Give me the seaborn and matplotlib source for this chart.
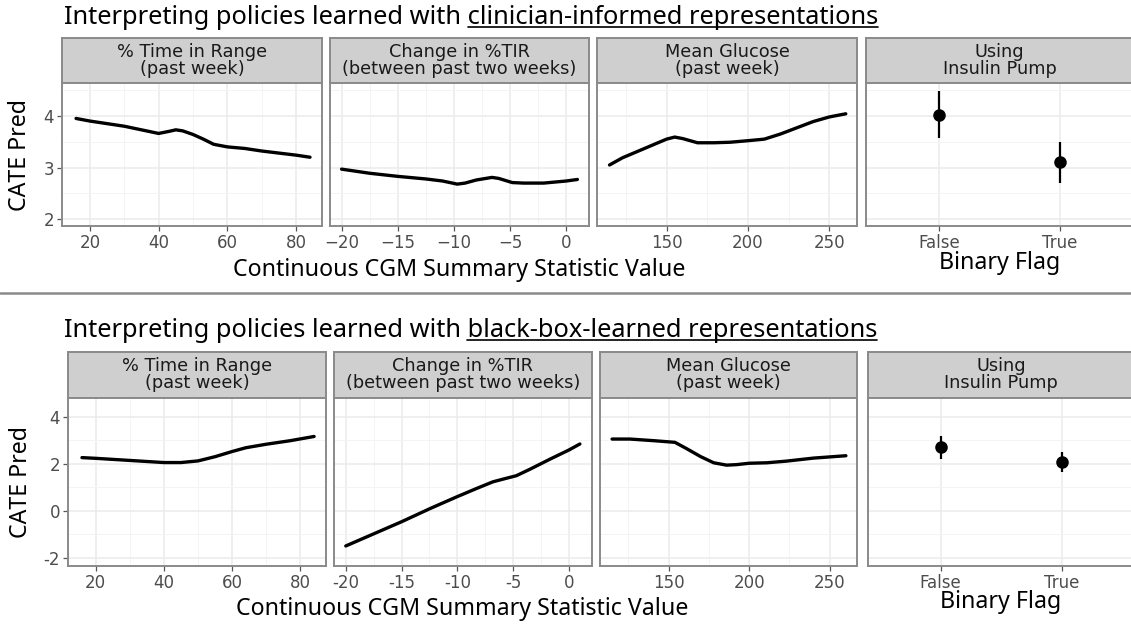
import numpy as np
import pandas as pd
import seaborn as sns
import matplotlib
matplotlib.use("Agg")
import matplotlib.pyplot as plt
from matplotlib.ticker import FixedLocator, FuncFormatter
from matplotlib.lines import Line2D

# ------------------------------------------------------------------ data
panel_titles = ["% Time in Range\n(past week)",
                "Change in %TIR\n(between past two weeks)",
                "Mean Glucose\n(past week)",
                "Using\nInsulin Pump"]
title_prefix = "Interpreting policies learned with "
title_emph = ["clinician-informed representations",
              "black-box-learned representations"]
x_label_cont = "Continuous CGM Summary Statistic Value"
x_label_bin = "Binary Flag"
y_label = "CATE Pred"
flag_levels = ["False", "True"]

# clinician-informed representations
clin_tir_x = [16, 20, 25, 30, 35, 40, 43, 45, 47, 50, 53, 56, 60, 65, 70, 75, 80, 84]
clin_tir_y = [3.95, 3.90, 3.85, 3.80, 3.73, 3.66, 3.70, 3.73, 3.71, 3.64, 3.55, 3.45,
              3.40, 3.37, 3.32, 3.28, 3.24, 3.20]
clin_dtir_x = [-20, -17.5, -15, -12.5, -11, -9.7, -9, -8, -6.6, -6, -4.8, -3.8, -2, 0, 1]
clin_dtir_y = [2.97, 2.89, 2.83, 2.78, 2.74, 2.68, 2.70, 2.76, 2.81, 2.79, 2.71, 2.70,
               2.70, 2.74, 2.77]
clin_glu_x = [115, 123, 138, 150, 155, 160, 169, 179, 189, 200, 210, 220, 230, 240, 250, 260]
clin_glu_y = [3.05, 3.19, 3.39, 3.55, 3.59, 3.56, 3.48, 3.48, 3.49, 3.52, 3.55, 3.65,
              3.77, 3.89, 3.98, 4.04]
clin_pump_est = [4.02, 3.10]
clin_pump_lo = [3.57, 2.71]
clin_pump_hi = [4.48, 3.49]

# black-box-learned representations
bb_tir_x = [16, 20, 30, 40, 45, 50, 55, 60, 64, 70, 77, 84]
bb_tir_y = [2.26, 2.23, 2.14, 2.05, 2.05, 2.12, 2.30, 2.52, 2.68, 2.83, 2.98, 3.16]
bb_dtir_x = [-20, -15, -12.4, -10, -8.3, -6.8, -5.6, -4.7, -3.5, -1.7, 0, 1]
bb_dtir_y = [-1.50, -0.47, 0.10, 0.60, 0.94, 1.23, 1.38, 1.49, 1.76, 2.19, 2.58, 2.84]
bb_glu_x = [115, 126, 141, 154, 161, 170, 178, 186, 192, 200, 211, 223, 240, 260]
bb_glu_y = [3.05, 3.05, 2.98, 2.91, 2.65, 2.30, 2.04, 1.94, 1.96, 2.02, 2.04, 2.11,
            2.24, 2.34]
bb_pump_est = [2.70, 2.09]
bb_pump_lo = [2.19, 1.66]
bb_pump_hi = [3.18, 2.51]

# ------------------------------------------------------------------ style
sns.set_theme(style="white")
TEXT_FONT = ["Noto Sans", "DejaVu Sans"]
TICK_FONT = ["DejaVu Sans"]
plt.rcParams["font.family"] = TICK_FONT

W, H = 1131, 624
BORDER = "#8a8a8a"
STRIP_FILL = "#cfcfcf"
GRID_MAJOR = "#ebebeb"
GRID_MINOR = "#f4f4f4"
TICK_COL = "#4d4d4d"
TITLE_SIZE = 18.3
LABEL_SIZE = 16.7
STRIP_SIZE = 12.8

fig = plt.figure(figsize=(W / 100, H / 100), dpi=100)
fig.patch.set_facecolor("white")


def rect(x0, x1, y0, y1):
    return [x0 / W, 1 - y1 / H, (x1 - x0) / W, (y1 - y0) / H]


sections = [
    dict(emph=title_emph[0], title_y=24.0, title_x=64,
         strip=(37.7, 83.3), panel=(83.3, 226.0),
         xs=[(62.3, 321.7), (330.0, 589.3), (597.3, 856.7), (866.0, 1133.0)],
         ylim=(1.87, 4.63), yticks=[2, 3, 4], yminor=[2.5, 3.5, 4.5],
         minus="\u2212",
         lines=[(clin_tir_x, clin_tir_y), (clin_dtir_x, clin_dtir_y), (clin_glu_x, clin_glu_y)],
         pump=(clin_pump_est, clin_pump_lo, clin_pump_hi),
         ylab=(20.0, 154.6), xlab=(459.5, 270.0), blab=(999.5, 263.0)),
    dict(emph=title_emph[1], title_y=336.7, title_x=63.5,
         strip=(351.7, 397.7), panel=(397.7, 565.7),
         xs=[(68.3, 325.7), (334.3, 591.7), (600.0, 856.7), (867.7, 1135.0)],
         ylim=(-2.34, 4.81), yticks=[-2, 0, 2, 4], yminor=[-1, 1, 3],
         minus="-",
         lines=[(bb_tir_x, bb_tir_y), (bb_dtir_x, bb_dtir_y), (bb_glu_x, bb_glu_y)],
         pump=(bb_pump_est, bb_pump_lo, bb_pump_hi),
         ylab=(20.7, 481.7), xlab=(462.0, 609.0), blab=(1001.0, 602.5)),
]

cont_xlims = [(12.0, 87.4), (-21.03, 2.06), (107.5, 266.7)]
cont_xticks = [[20, 40, 60, 80], [-20, -15, -10, -5, 0], [150, 200, 250]]
cont_xminor = [[30, 50, 70], [-17.5, -12.5, -7.5, -2.5], [125, 175, 225]]


def style_axes(ax, minus):
    ax.set_facecolor("white")
    for sp in ax.spines.values():
        sp.set_color(BORDER)
        sp.set_linewidth(1.4)
        sp.set_visible(True)
    ax.set_axisbelow(True)
    ax.grid(which="major", color=GRID_MAJOR, lw=1.1)
    ax.grid(which="minor", color=GRID_MINOR, lw=0.7)
    ax.tick_params(which="major", length=3.5, width=0.9, color="#555555",
                   labelsize=12, labelcolor=TICK_COL, pad=2.5,
                   bottom=True, left=False, labelleft=False)
    ax.tick_params(which="minor", length=0)
    fmt = FuncFormatter(lambda v, p: f"{v:g}".replace("-", minus))
    ax.xaxis.set_major_formatter(fmt)
    ax.yaxis.set_major_formatter(fmt)
    ax.set_xlabel("")
    ax.set_ylabel("")
    for lab in ax.get_xticklabels() + ax.get_yticklabels():
        lab.set_family(TICK_FONT)


renderer = fig.canvas.get_renderer()

for sec in sections:
    sy0, sy1 = sec["strip"]
    py0, py1 = sec["panel"]
    for i, (x0, x1) in enumerate(sec["xs"]):
        # strip
        sax = fig.add_axes(rect(x0, x1, sy0, sy1))
        sax.set_facecolor(STRIP_FILL)
        sax.set_xticks([])
        sax.set_yticks([])
        sax.grid(False)
        for sp in sax.spines.values():
            sp.set_color(BORDER)
            sp.set_linewidth(1.4)
        sax.text(0.5, 0.5, panel_titles[i], transform=sax.transAxes,
                 ha="center", va="center", fontsize=STRIP_SIZE, color="#1a1a1a",
                 linespacing=0.92, family=TICK_FONT)

        ax = fig.add_axes(rect(x0, x1, py0, py1))
        if i < 3:
            xs_, ys_ = sec["lines"][i]
            df = pd.DataFrame({"value": xs_, "cate": ys_})
            sns.lineplot(data=df, x="value", y="cate", ax=ax, color="black",
                         lw=2.4, sort=False, estimator=None)
            style_axes(ax, sec["minus"])
            ax.set_xlim(*cont_xlims[i])
            ax.xaxis.set_major_locator(FixedLocator(cont_xticks[i]))
            ax.xaxis.set_minor_locator(FixedLocator(cont_xminor[i]))
        else:
            est, lo, hi = sec["pump"]
            dfp = pd.DataFrame({"flag": flag_levels, "cate": est})
            sns.pointplot(data=dfp, x="flag", y="cate", ax=ax, color="black",
                          linestyle="none", markers="o", markersize=7,
                          errorbar=None)
            ax.vlines(np.arange(len(flag_levels)), lo, hi, color="black", lw=1.6)
            style_axes(ax, sec["minus"])
            ax.xaxis.set_major_formatter(FuncFormatter(lambda v, p: flag_levels[int(round(v))]
                                                       if 0 <= round(v) < len(flag_levels) else ""))
            ax.xaxis.set_major_locator(FixedLocator(range(len(flag_levels))))
            ax.set_xlim(-0.6, len(flag_levels) - 0.4)
            ax.grid(which="major", axis="x", color=GRID_MAJOR, lw=1.1)
        ax.set_ylim(*sec["ylim"])
        ax.yaxis.set_major_locator(FixedLocator(sec["yticks"]))
        ax.yaxis.set_minor_locator(FixedLocator(sec["yminor"]))
        if i == 0:
            ax.tick_params(axis="y", which="major", left=True, labelleft=True)

    # axis labels
    fig.text(sec["ylab"][0] / W, 1 - sec["ylab"][1] / H, y_label, rotation=90,
             ha="center", va="center", fontsize=LABEL_SIZE, family=TEXT_FONT, color="black")
    fig.text(sec["xlab"][0] / W, 1 - sec["xlab"][1] / H, x_label_cont,
             ha="center", va="center", fontsize=LABEL_SIZE, family=TEXT_FONT, color="black")
    fig.text(sec["blab"][0] / W, 1 - sec["blab"][1] / H, x_label_bin,
             ha="center", va="center", fontsize=LABEL_SIZE, family=TEXT_FONT, color="black")

    # section title with underlined emphasis
    full = title_prefix + sec["emph"]
    tx = sec["title_x"] / W
    ty = 1 - sec["title_y"] / H
    t_full = fig.text(tx, ty, full, ha="left", va="baseline", fontsize=TITLE_SIZE,
                      family=TEXT_FONT, color="black")
    t_emph = fig.text(0, 0, sec["emph"], ha="left", va="baseline", fontsize=TITLE_SIZE,
                      family=TEXT_FONT, alpha=0)
    bb_full = t_full.get_window_extent(renderer)
    bb_emph = t_emph.get_window_extent(renderer)
    t_emph.remove()
    ux1 = bb_full.x1
    ux0 = bb_full.x1 - bb_emph.width
    uy = (H - sec["title_y"]) - 3.2
    fig.add_artist(Line2D([ux0 / W, ux1 / W], [uy / H, uy / H], color="black",
                          lw=1.2, transform=fig.transFigure))

# separator between the two sections
fig.add_artist(Line2D([0, 1], [1 - 293 / H, 1 - 293 / H], color=BORDER, lw=1.8,
                      transform=fig.transFigure))

fig.savefig("out.png", dpi=100, facecolor="white")
